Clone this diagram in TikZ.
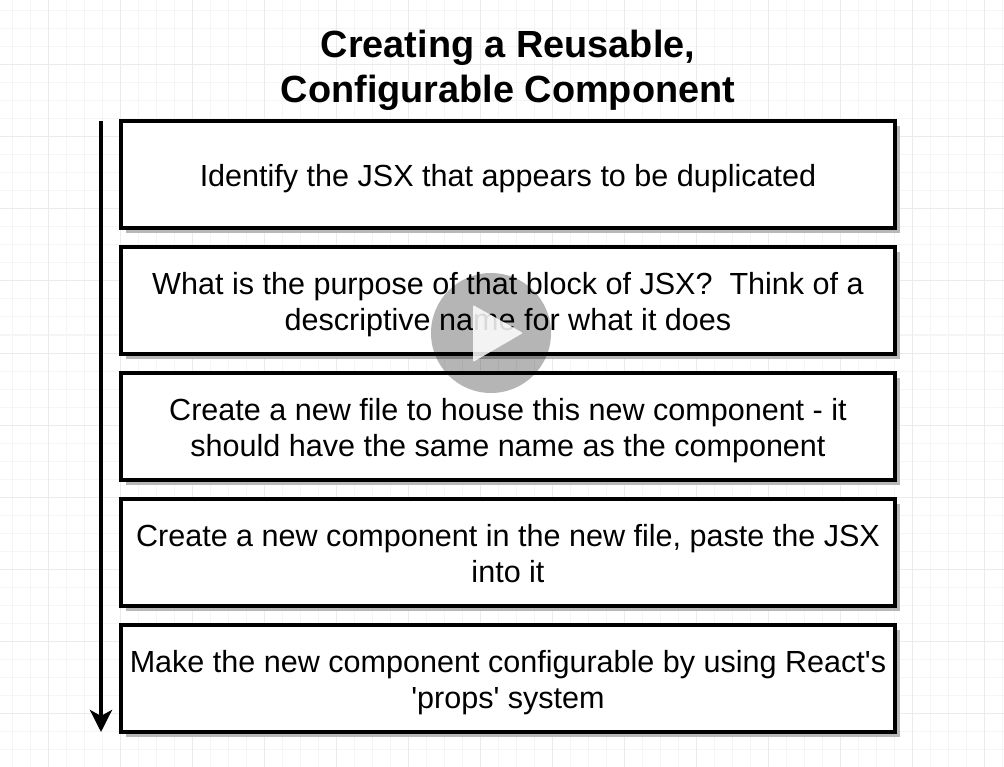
\documentclass[tikz,border=0pt]{standalone}
\usepackage{fontspec}
\setmainfont{Liberation Sans}
\usetikzlibrary{arrows.meta}
\usetikzlibrary{positioning}
\usetikzlibrary{shadows}
\tikzstyle{every node}+=[inner sep=0pt]
\tikzstyle{stepbox} = [rectangle, draw, fill=white, line width=4pt, font=\fontsize{30.55}{36}\selectfont, text centered, minimum height=107.5pt, minimum width=774pt, text height=30.5pt, text depth=5.5pt, drop shadow={shadow xshift=5pt, shadow yshift=-5pt, fill=black!28, opacity=1}]
\tikzstyle{twoline} = [text height=65pt]
\tikzstyle{heading} = [font=\fontsize{37.85}{45}\selectfont\bfseries, text centered]
\tikzstyle{line} = [draw, line width=4pt, -{Stealth[length=22pt, width=22pt, inset=6pt]}]
\tikzstyle{gridminor} = [draw=black!4, line width=1pt]
\tikzstyle{gridmajor} = [draw=black!8, line width=1pt]
\begin{document}
\begin{tikzpicture}[x=1pt, y=-1pt, node distance=126pt, every text node part/.style={align=center}]
            \useasboundingbox (0,0) rectangle (1004,767);
            % Draw grid
            \foreach \gx in {12,30,...,1004} \draw [gridminor] (\gx,0) -- (\gx,767);
            \foreach \gy in {11,29,...,767} \draw [gridminor] (0,\gy) -- (1004,\gy);
            \foreach \gx in {48,120,...,1004} \draw [gridmajor] (\gx,0) -- (\gx,767);
            \foreach \gy in {65,137,...,767} \draw [gridmajor] (0,\gy) -- (1004,\gy);
            % Place nodes
            \node [heading] (title) at (508,70) {Creating a Reusable,\\Configurable Component};
            \node [stepbox] (identify) at (508,174.5) {Identify the JSX that appears to be duplicated};
            \node [stepbox, twoline, below of=identify] (purpose) {What is the purpose of that block of JSX?\ \ Think of a\\descriptive name for what it does};
            \node [stepbox, twoline, below of=purpose] (newfile) {Create a new file to house this new component - it\\should have the same name as the component};
            \node [stepbox, twoline, below of=newfile] (paste) {Create a new component in the new file, paste the JSX\\into it};
            \node [stepbox, twoline, below of=paste] (props) {Make the new component configurable by using React\textquotesingle s\\\textquotesingle props\textquotesingle{} system};
            \coordinate (flowstart) at (101,121);
            \coordinate (flowend) at (101,732);
            % Draw edges
            \path [line] (flowstart) -- (flowend);
            % Play button
            \fill [black!29, blend mode=multiply] (491,333) circle (60);
            \fill [white, opacity=0.85, rounded corners=1pt] (473,305) -- (523,333) -- (473,362) -- cycle;
          \end{tikzpicture}
\end{document}
